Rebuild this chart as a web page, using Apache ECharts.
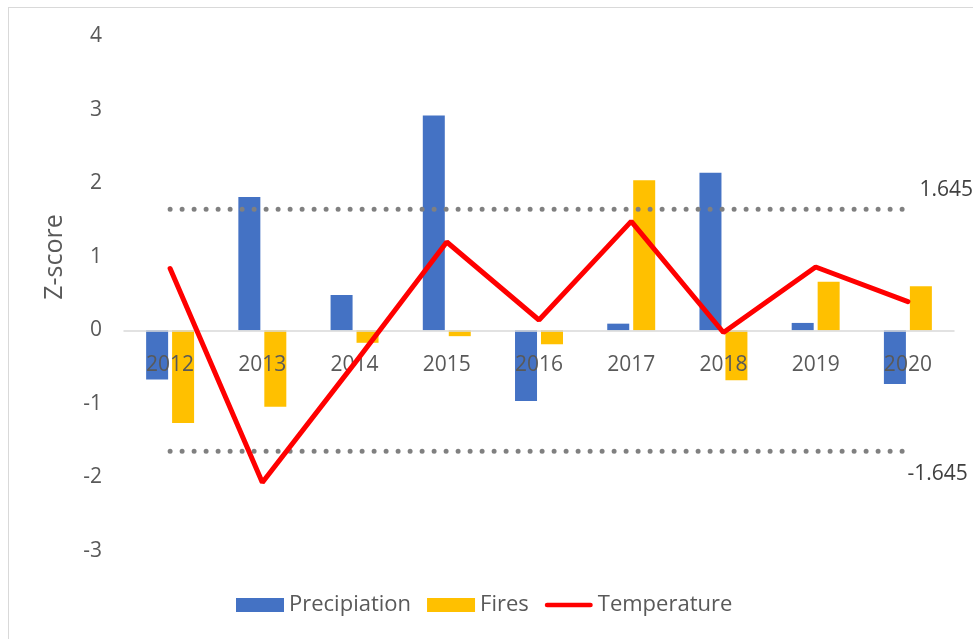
<!DOCTYPE html>
<html>
<head>
<meta charset="utf-8">
<script src="https://cdn.jsdelivr.net/npm/echarts@6/dist/echarts.min.js"></script>
<style>
  html, body { margin: 0; padding: 0; background: #fff; }
  #frame { position: absolute; left: 8px; top: 7px; width: 980px; height: 640px; border: 1px solid #d9d9d9; box-sizing: border-box; }
  #chart { position: absolute; left: 0; top: 0; width: 973px; height: 639px; }
</style>
</head>
<body>
<div id="frame"></div>
<div id="chart"></div>
<script>
// Yearly z-scores
const years = ['2012', '2013', '2014', '2015', '2016', '2017', '2018', '2019', '2020'];
const precipitation = [-0.67, 1.81, 0.48, 2.92, -0.96, 0.09, 2.14, 0.10, -0.73];
const fires = [-1.26, -1.04, -0.17, -0.08, -0.19, 2.04, -0.68, 0.66, 0.60];
const temperature = [0.84, -2.07, -0.45, 1.20, 0.14, 1.48, -0.03, 0.86, 0.39];
// Significance thresholds (90% two-tailed)
const upperThreshold = 1.645;
const lowerThreshold = -1.645;
const yTicks = { min: -3, max: 4, step: 1 };

const FONT = '"Open Sans", "Noto Sans", sans-serif';
const GREY_TEXT = '#595959';

const GRID = { left: 124, right: 19, top: 36, bottom: 88 };
const CHART_H = 639;

// Pixel distance from the bottom of the plot to the zero line, so the
// category labels can sit right under the zero line.
const plotH = CHART_H - GRID.top - GRID.bottom;
const zeroLift = plotH * (0 - yTicks.min) / (yTicks.max - yTicks.min);

function thresholdData(value, labelOffset) {
  return years.map((y, i) => {
    if (i < years.length - 1) return value;
    return {
      value: value,
      label: {
        show: true,
        position: 'right',
        distance: 5,
        offset: labelOffset,
        formatter: String(value),
        color: '#404040',
        fontSize: 21,
        fontFamily: FONT
      }
    };
  });
}

const dotted = {
  color: '#808080',
  width: 5,
  type: [0, 12],
  cap: 'round'
};

const chart = echarts.init(document.getElementById('chart'));
chart.setOption({
  animation: false,
  grid: Object.assign({ containLabel: false }, GRID),
  legend: {
    data: [
      { name: 'Precipiation', icon: 'rect' },
      { name: 'Fires', icon: 'rect' },
      { name: 'Temperature', icon: 'path://M0,0 M48,14 M2,4.6 L46,4.6 A2.4,2.4 0 0 1 46,9.4 L2,9.4 A2.4,2.4 0 0 1 2,4.6 Z' }
    ],
    left: 236,
    top: 594,
    padding: 0,
    itemWidth: 48,
    itemHeight: 14,
    itemGap: 16,
    textStyle: { color: GREY_TEXT, fontSize: 22, fontFamily: FONT }
  },
  graphic: [{
    type: 'text',
    x: 55,
    y: 257,
    rotation: Math.PI / 2,
    style: {
      text: 'Z-score',
      fill: GREY_TEXT,
      font: '25px ' + FONT,
      textAlign: 'center',
      textVerticalAlign: 'middle'
    }
  }],
  xAxis: {
    type: 'category',
    data: years,
    z: 5,
    offset: -zeroLift,
    axisLine: { onZero: false, lineStyle: { color: '#d9d9d9', width: 1.5 } },
    axisTick: { show: false },
    axisLabel: { color: GREY_TEXT, fontSize: 21, fontFamily: FONT, margin: 24 },
    splitLine: { show: false }
  },
  yAxis: {
    type: 'value',
    min: yTicks.min,
    max: yTicks.max,
    interval: yTicks.step,
    axisLine: { show: false },
    axisTick: { show: false },
    splitLine: { show: false },
    axisLabel: { color: GREY_TEXT, fontSize: 21, fontFamily: FONT, margin: 22 }
  },
  series: [
    {
      name: 'Precipiation',
      type: 'bar',
      data: precipitation,
      barWidth: 22,
      barGap: '18%',
      itemStyle: { color: '#4472c4' },
      z: 2
    },
    {
      name: 'Fires',
      type: 'bar',
      data: fires,
      barWidth: 22,
      barGap: '18%',
      itemStyle: { color: '#ffc000' },
      z: 2
    },
    {
      name: 'upper',
      type: 'line',
      data: thresholdData(upperThreshold, [6, -19]),
      symbol: 'circle',
      symbolSize: 1,
      itemStyle: { color: 'rgba(0,0,0,0)' },
      lineStyle: dotted,
      silent: true,
      z: 3
    },
    {
      name: 'lower',
      type: 'line',
      data: thresholdData(lowerThreshold, [-6, 23]),
      symbol: 'circle',
      symbolSize: 1,
      itemStyle: { color: 'rgba(0,0,0,0)' },
      lineStyle: dotted,
      silent: true,
      z: 3
    },
    {
      name: 'Temperature',
      type: 'line',
      data: temperature,
      symbol: 'none',
      itemStyle: { color: '#ff0000' },
      lineStyle: { color: '#ff0000', width: 5, cap: 'round' },
      z: 10
    }
  ]
});
</script>
</body>
</html>
